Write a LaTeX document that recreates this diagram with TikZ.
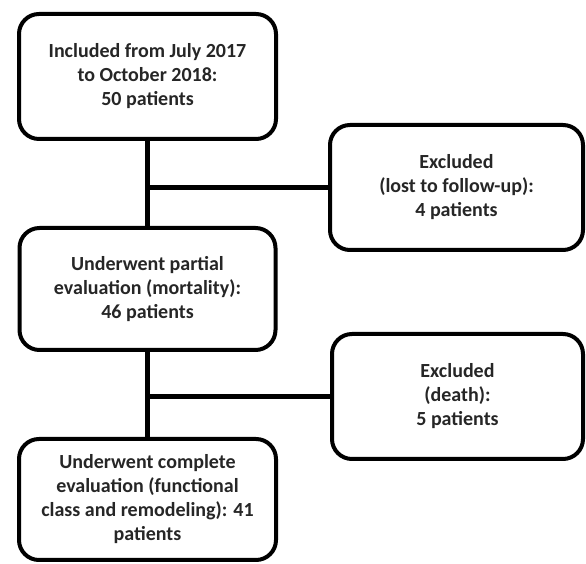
\documentclass[tikz,border=0pt]{standalone}
\usepackage{fontspec}
\setmainfont{Carlito}
\definecolor{txt}{HTML}{262626}
\begin{document}
\begin{tikzpicture}[x=1pt,y=1pt,
  flowbox/.style={draw=black, line width=4pt, rounded corners=20pt, fill=white,
    align=center, text=txt, inner sep=0pt,
    font=\fontsize{20}{24}\selectfont\bfseries},
  conn/.style={draw=black, line width=5pt}]
\useasboundingbox (0,0) rectangle (586,564);
\node[flowbox, minimum width=257pt, minimum height=125pt] (b1) at (147.5,487.5)
  {Included from July 2017\\to October 2018:\\50 patients};
\node[flowbox, minimum width=253pt, minimum height=125pt] (r1) at (456.5,376.5)
  {Excluded\\(lost to follow-up):\\4 patients};
\node[flowbox, minimum width=256pt, minimum height=122pt] (b2) at (147.5,275)
  {Underwent partial\\evaluation (mortality):\\46 patients};
\node[flowbox, minimum width=251pt, minimum height=125pt] (r2) at (457.5,167.5)
  {Excluded\\(death):\\5 patients};
\node[flowbox, minimum width=257pt, minimum height=121pt] (b3) at (147.5,64.5)
  {Underwent complete\\evaluation (functional\\class and remodeling): 41\\patients};
\begin{scope}[on background layer/.try]
\end{scope}
\draw[conn] (b1.south) -- (b2.north);
\draw[conn] (b2.south) -- (b3.north);
\draw[conn] (r1.west) -- (r1.west -| b1.south);
\draw[conn] (r2.west) -- (r2.west -| b2.south);
\end{tikzpicture}
\end{document}
